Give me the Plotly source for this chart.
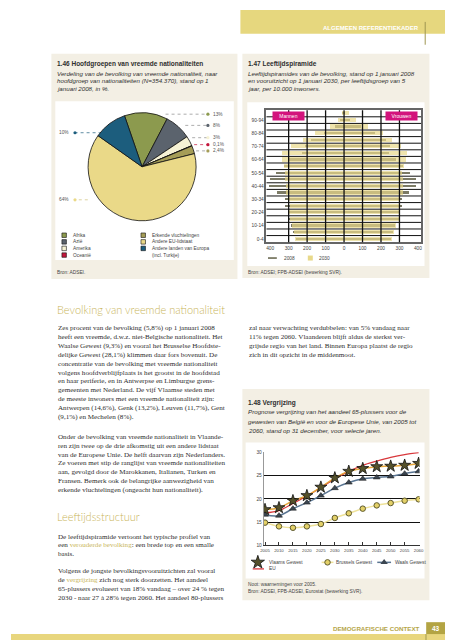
import plotly.graph_objects as go

W, H = 453, 640
def px(x): return x / W
def py(y): return 1 - y / H

# ---------------- DATA ----------------
nat_labels = ["Afrika", "Azië", "Amerika", "Oceanië", "Erkende vluchtelingen",
              "Andere EU-lidstaat", "Andere landen van Europa"]
nat_values = [13, 8, 3, 0.1, 2.4, 64, 10]
nat_text = ["13%", "8%", "3%", "0,1%", "2,4%", "64%", "10%"]
nat_colors = ["#8C9A4E", "#5B636D", "#F6F2D4", "#C3163C", "#A59D57", "#EAD988", "#1C5D7D"]

age_groups = ["0-4", "5-9", "10-14", "15-19", "20-24", "25-29", "30-34", "35-39", "40-44",
              "45-49", "50-54", "55-59", "60-64", "65-69", "70-74", "75-79", "80-84",
              "85-89", "90-94", "95-99"]
men_2008 = [260, 272, 286, 293, 298, 319, 316, 360, 403, 398, 365, 325, 298, 225, 210, 175, 105, 49, 21, 4]
women_2008 = [258, 267, 281, 298, 298, 316, 316, 356, 391, 391, 361, 321, 284, 246, 254, 232, 172, 96, 35, 8]
men_2030 = [263, 267, 281, 290, 295, 290, 302, 312, 314, 316, 316, 325, 331, 331, 286, 221, 153, 72, 30, 7]
women_2030 = [263, 272, 284, 298, 302, 298, 305, 323, 323, 323, 319, 328, 337, 346, 312, 261, 214, 132, 70, 32]
pyr_ticks = [-400, -300, -200, -100, 0, 100, 200, 300, 400]

years = [2005, 2010, 2015, 2020, 2025, 2030, 2035, 2040, 2045, 2050, 2055, 2060]
vlaams = [17.7, 18.1, 19.6, 20.7, 22.5, 24.5, 25.9, 26.5, 26.9, 27.0, 27.2, 27.6]
brussels = [14.9, 14.1, 13.8, 14.1, 14.6, 15.9, 16.9, 17.9, 18.6, 19.1, 19.6, 19.9]
waals = [16.6, 16.4, 17.9, 19.2, 20.7, 22.3, 23.5, 24.3, 24.6, 24.8, 25.4, 25.9]
eu = [17.0, 17.5, 19.0, 20.6, 22.4, 24.3, 25.9, 27.2, 28.1, 28.9, 29.5, 29.9]
line_yticks = [10, 15, 20, 25, 30]

para1 = ["Zes procent van de bevolking (5,8%) op 1 januari 2008",
         "heeft een vreemde, d.w.z. niet-Belgische nationaliteit. Het",
         "Waalse Gewest (9,3%) en vooral het Brusselse Hoofdste-",
         "delijke Gewest (28,1%) klimmen daar fors bovenuit. De",
         "concentratie van de bevolking met vreemde nationaliteit",
         "volgens hoofdverblijfplaats is het grootst in de hoofdstad",
         "en haar periferie, en in Antwerpse en Limburgse grens-",
         "gemeenten met Nederland. De vijf Vlaamse steden met",
         "de meeste inwoners met een vreemde nationaliteit zijn:",
         "Antwerpen (14,6%), Genk (13,2%), Leuven (11,7%), Gent",
         "(9,1%) en Mechelen (8%)."]
para2 = ["Onder de bevolking van vreemde nationaliteit in Vlaande-",
         "ren zijn twee op de drie afkomstig uit een andere lidstaat",
         "van de Europese Unie. De helft daarvan zijn Nederlanders.",
         "Ze voeren met stip de ranglijst van vreemde nationaliteiten",
         "aan, gevolgd door de Marokkanen, Italianen, Turken en",
         "Fransen. Bemerk ook de belangrijke aanwezigheid van",
         "erkende vluchtelingen (ongeacht hun nationaliteit)."]
GOLD = "#C9B55A"
para3 = ["De leeftijdspiramide vertoont het typische profiel van",
         "een <span style='color:%s'>verouderde bevolking</span>: een brede top en een smalle" % GOLD,
         "basis."]
para4 = ["Volgens de jongste bevolkingsvooruitzichten zal vooral",
         "de <span style='color:%s'>vergrijzing</span> zich nog sterk doorzetten. Het aandeel" % GOLD,
         "65-plussers evolueert van 18% vandaag – over 24 % tegen",
         "2030 - naar 27 à 28% tegen 2060. Het aandeel 80-plussers"]
para5 = ["zal naar verwachting verdubbelen: van 5% vandaag naar",
         "11% tegen 2060. Vlaanderen blijft aldus de sterkst ver-",
         "grijsde regio van het land. Binnen Europa plaatst de regio",
         "zich in dit opzicht in de middenmoot."]

SANS = "Liberation Sans"
SERIF = "Liberation Serif"
TXT = "#2E2E2E"
BEIGE = "#F3EFE4"

fig = go.Figure()

# ---------------- PIE ----------------
fig.add_trace(go.Pie(
    labels=nat_labels, values=nat_values, sort=False, direction="clockwise",
    rotation=-19, textinfo="none", hoverinfo="label+percent",
    marker=dict(colors=nat_colors, line=dict(color="#111", width=0.8)),
    domain=dict(x=[px(78.3), px(188)], y=[py(212.7), py(103.3)]),
    showlegend=False))

# ---------------- PYRAMID ----------------
Y = list(range(len(age_groups)))
fig.add_trace(go.Bar(y=Y, x=[-v for v in men_2008], orientation="h", width=0.32,
                     marker=dict(color="#7C7B66", line=dict(width=0)), xaxis="x", yaxis="y", showlegend=False))
fig.add_trace(go.Bar(y=Y, x=women_2008, orientation="h", width=0.32,
                     marker=dict(color="#7C7B66", line=dict(width=0)), xaxis="x", yaxis="y", showlegend=False))
fig.add_trace(go.Bar(y=Y, x=[-v for v in men_2030], orientation="h", width=0.62, opacity=0.7,
                     marker=dict(color="#E8D98A", line=dict(width=0)), xaxis="x", yaxis="y", showlegend=False))
fig.add_trace(go.Bar(y=Y, x=women_2030, orientation="h", width=0.62, opacity=0.7,
                     marker=dict(color="#E8D98A", line=dict(width=0)), xaxis="x", yaxis="y", showlegend=False))

# ---------------- LINE CHART ----------------
fig.add_trace(go.Scatter(x=years, y=eu, mode="lines", line=dict(color="#D8383C", width=1.3, shape="spline"),
                         xaxis="x2", yaxis="y2", showlegend=False))
fig.add_trace(go.Scatter(x=years, y=waals, mode="lines+markers",
                         line=dict(color="#5A7592", width=1.5, shape="spline"),
                         marker=dict(symbol="triangle-up", size=6, color="#3B4651", line=dict(color="#222", width=0.6)),
                         xaxis="x2", yaxis="y2", showlegend=False))
fig.add_trace(go.Scatter(x=years, y=brussels, mode="lines+markers",
                         line=dict(color="#EEE29A", width=1.5, shape="spline"),
                         marker=dict(symbol="circle", size=5.5, color="#E3D068", line=dict(color="#5E5A2E", width=1)),
                         xaxis="x2", yaxis="y2", showlegend=False))
fig.add_trace(go.Scatter(x=years, y=vlaams, mode="lines+markers",
                         line=dict(color="#E6A73C", width=1.5, shape="spline"),
                         marker=dict(symbol="star", size=9, color="#55512B", line=dict(color="#111", width=0.8)),
                         xaxis="x2", yaxis="y2", showlegend=False))

# ---------------- OVERLAY (legend symbols, leader dots) ----------------
def ov(**kw):
    kw.setdefault("xaxis", "x3"); kw.setdefault("yaxis", "y3")
    kw.setdefault("showlegend", False); kw.setdefault("hoverinfo", "skip")
    fig.add_trace(go.Scatter(**kw))

# pie legend swatches
sw_x = [54, 54, 54, 54, 134.3, 134.3, 134.3]
sw_y = [227, 233.7, 240.3, 247, 227, 233.7, 240.3]
ov(x=sw_x, y=sw_y, mode="markers",
   marker=dict(symbol="square", size=4.5, color=nat_colors, line=dict(color="#111", width=0.6)))
# pie leader lines + dots
lead = [((157, 105), (200, 105)), ((177, 116.3), (200, 116.3)), ((184, 128.7), (200, 128.7)),
        ((186, 135.7), (200, 135.7)), ((188, 142), (200, 142)), ((78, 191.3), (65, 191.3)),
        ((92, 123.7), (65, 123.7))]
lab_pos = [(203, 105), (203, 116.3), (203, 128.7), (203, 135.7), (203, 142), (47, 191.3), (47, 123.7)]
lead_colors = ["#8A8A8A", "#8A8A8A", "#8A8A8A", "#C3163C", "#8A8A8A", "#CFC27A", "#1C5D7D"]
for (a, b), c in zip(lead, lead_colors):
    ov(x=[a[0], b[0]], y=[a[1], b[1]], mode="lines", line=dict(color=c, width=0.7, dash="dot"))
ov(x=[b[0] for a, b in lead], y=[b[1] for a, b in lead], mode="markers",
   marker=dict(size=3.2, color=nat_colors, line=dict(width=0)))

# pyramid legend
ov(x=[261, 270], y=[250, 250], mode="lines", line=dict(color="#7C7B66", width=1.8))
ov(x=[304], y=[250], mode="markers", marker=dict(symbol="square", size=5, color="#E8D98A"))

# line legend
ov(x=[250.7], y=[556.7], mode="markers", marker=dict(symbol="star", size=10, color="#55512B", line=dict(color="#111", width=0.8)))
ov(x=[315.5, 327.5], y=[556.7, 556.7], mode="lines", line=dict(color="#EEE29A", width=1.5))
ov(x=[321.5], y=[556.7], mode="markers", marker=dict(symbol="circle", size=5.5, color="#E3D068", line=dict(color="#5E5A2E", width=1)))
ov(x=[372, 386], y=[556.7, 556.7], mode="lines", line=dict(color="#5A7592", width=1.5))
ov(x=[379], y=[556.7], mode="markers", marker=dict(symbol="triangle-up", size=6.5, color="#3B4651"))
ov(x=[245.5, 257], y=[563.3, 563.3], mode="lines", line=dict(color="#D8383C", width=1.3))

# ---------------- SHAPES ----------------
shapes = []
def rect(x0, y0, x1, y1, color, layer="below"):
    shapes.append(dict(type="rect", xref="paper", yref="paper", x0=px(x0), x1=px(x1), y0=py(y1), y1=py(y0),
                       fillcolor=color, line=dict(width=0), layer=layer))
def vline(x, y0, y1, color, w=1):
    shapes.append(dict(type="line", xref="paper", yref="paper", x0=px(x), x1=px(x), y0=py(y1), y1=py(y0),
                       line=dict(color=color, width=w), layer="above"))

rect(233, 0, 453, 24, "#E6D77E")
vline(420.7, 12, 35, "#9E9650", 1)
rect(41, 44, 230, 271, BEIGE)
rect(45, 92, 226.3, 252, "white")
rect(235, 44, 425, 270, BEIGE)
rect(240, 93, 420, 258, "white")
rect(235, 382, 425, 595, BEIGE)
rect(238.3, 436, 420, 573, "white")
rect(0, 629, 453, 640, "#E8D67E")
rect(421.7, 617, 453, 629, "#B3A443")
vline(421.5, 629, 640, "#A39A55", 1)

# pyramid grid lines above bars
for v in pyr_ticks[1:-1]:
    shapes.append(dict(type="line", xref="x", yref="y domain", x0=v, x1=v, y0=0, y1=1,
                       line=dict(color="#111", width=1.3), layer="above"))
for k in range(len(age_groups) - 1):
    shapes.append(dict(type="line", xref="x domain", yref="y", x0=0, x1=1, y0=k + 0.5, y1=k + 0.5,
                       line=dict(color="#111", width=1), layer="above"))

# ---------------- ANNOTATIONS ----------------
ann = []
def T(x, y, text, size=5, color=TXT, family=SANS, xanchor="left", weight=None, **kw):
    f = dict(size=size, color=color, family=family)
    if weight: f["weight"] = weight
    ann.append(dict(x=px(x), y=py(y), xref="paper", yref="paper", text=text, showarrow=False,
                    xanchor=xanchor, yanchor="middle", font=f, **kw))

T(416, 18.5, "<b>ALGEMEEN REFERENTIEKADER</b>", 6, "white", xanchor="right")

# Chart 1.46
T(45, 54.5, "<b>1.46 Hoofdgroepen van vreemde nationaliteiten</b>", 6.5)
for i, s in enumerate(["Verdeling van de bevolking van vreemde nationaliteit, naar",
                       "hoofdgroep van nationaliteiten (N=354.370), stand op 1",
                       "januari 2008, in %."]):
    T(45, 63.5 + 8 * i, "<i>%s</i>" % s, 6.2)
for (x, y), t in zip(lab_pos, nat_text):
    T(x, y, t, 4.8, "#555")
leg_text = ["Afrika", "Azië", "Amerika", "Oceanië", "Erkende vluchtelingen", "Andere EU-lidstaat",
            "Andere landen van Europa"]
for xs, ys, t in zip(sw_x, sw_y, leg_text):
    T(xs + 6.5, ys, t, 4.8, "#444")
T(134.3 + 6.5, 247, "(incl. Turkije)", 4.8, "#444")
T(45, 264.3, "Bron: ADSEI.", 4.8, "#444")

# Chart 1.47
T(239, 54.5, "<b>1.47 Leeftijdspiramide</b>", 6.5)
for i, s in enumerate(["Leeftijdspiramides van de bevolking, stand op 1 januari 2008",
                       "en vooruitzicht op 1 januari 2030, per leeftijdsgroep van 5",
                       "jaar, per 10.000 inwoners."]):
    T(239, 63.5 + 8 * i, "<i>%s</i>" % s, 6.2)
T(281.5, 107, "Mannen", 5, "white", xanchor="center", bgcolor="#D3137C", width=29, height=6)
T(396.5, 107, "Vrouwen", 5, "white", xanchor="center", bgcolor="#D3137C", width=29, height=6)
T(275, 250, "2008", 4.8, "#444")
T(310.5, 250, "2030", 4.8, "#444")
T(239, 265, "Bron: ADSEI; FPB-ADSEI (bewerking SVR).", 4.8, "#444")

# Chart 1.48
T(239, 395.7, "<b>1.48 Vergrijzing</b>", 6.5)
for i, s in enumerate(["Prognose vergrijzing van het aandeel 65-plussers voor de",
                       "gewesten van België en voor de Europese Unie, van 2005 tot",
                       "2060, stand op 31 december, voor selecte jaren."]):
    T(239, 405 + 9.3 * i, "<i>%s</i>" % s, 6.2)
T(260, 556.7, "Vlaams Gewest", 4.8, "#444")
T(328.5, 556.7, "Brussels Gewest", 4.8, "#444")
T(388.5, 556.7, "Waals Gewest", 4.8, "#444")
T(260, 563.3, "EU", 4.8, "#444")
T(239, 579, "Noot: waarnemingen voor 2005.", 4.8, "#444")
T(239, 586, "Bron: ADSEI, FPB-ADSEI, Eurostat (bewerking SVR).", 4.8, "#444")

# Body text
T(45, 301.5, "Bevolking van vreemde nationaliteit", 11, GOLD, family="Lato", weight=300)
for i, s in enumerate(para1):
    T(46, 321 + 8.9 * i, s, 7.1, TXT, family=SERIF)
for i, s in enumerate(para2):
    T(46, 430 + 9.0 * i, s, 7.1, TXT, family=SERIF)
T(45, 510.5, "Leeftijdsstructuur", 11, GOLD, family="Lato", weight=300)
for i, s in enumerate(para3):
    T(46, 531 + 8.7 * i, s, 7.1, TXT, family=SERIF)
for i, s in enumerate(para4):
    T(46, 565.7 + 8.9 * i, s, 7.1, TXT, family=SERIF)
for i, s in enumerate(para5):
    T(240, 320.7 + 9.0 * i, s, 7.1, TXT, family=SERIF)

# Footer
T(417, 623, "DEMOGRAFISCHE CONTEXT", 6.2, "#B5A548", weight=600, xanchor="right")
T(425.5, 623, "<b>43</b>", 6.5, "white")

# ---------------- LAYOUT ----------------
tickf = dict(size=4.8, color="#444", family=SANS)
fig.update_layout(
    width=W, height=H, margin=dict(l=0, r=0, t=0, b=0),
    paper_bgcolor="white", plot_bgcolor="rgba(0,0,0,0)",
    barmode="overlay", bargap=0,
    shapes=shapes, annotations=ann,
    xaxis=dict(domain=[px(259.5), px(416.5)], range=[-420, 417], tickvals=pyr_ticks,
               ticktext=[str(abs(v)) for v in pyr_ticks], showgrid=False, zeroline=False,
               showline=True, mirror=True, linecolor="#666", linewidth=1.5, tickfont=tickf,
               ticks="", fixedrange=True),
    yaxis=dict(domain=[py(234), py(101)], range=[-0.5, len(age_groups) - 0.5],
               tickvals=Y[::2], ticktext=age_groups[::2], showgrid=False, zeroline=False,
               showline=True, mirror=True, linecolor="#666", linewidth=1.5, tickfont=tickf,
               ticks="", fixedrange=True),
    xaxis2=dict(domain=[px(256.7), px(415)], range=[2004.54, 2060.35], tickvals=years,
                showgrid=False, zeroline=False, showline=True, linecolor="#333", linewidth=1,
                ticks="inside", ticklen=3, tickcolor="#333", tickfont=dict(size=4.3, color="#444", family=SANS),
                anchor="y2", fixedrange=True),
    yaxis2=dict(domain=[py(539.7), py(445.7)], range=[10, 30], tickvals=line_yticks,
                showgrid=True, gridcolor="#111", gridwidth=1.3, zeroline=False,
                showline=True, linecolor="#999", linewidth=1, ticks="", tickfont=tickf,
                anchor="x2", fixedrange=True),
    xaxis3=dict(domain=[0, 1], range=[0, W], visible=False, fixedrange=True, anchor="y3"),
    yaxis3=dict(domain=[0, 1], range=[H, 0], visible=False, fixedrange=True, anchor="x3"),
    showlegend=False,
)

fig.write_html("out.html")
